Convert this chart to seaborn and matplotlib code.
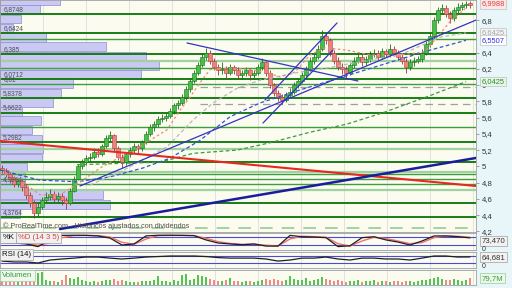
import numpy as np
import pandas as pd
import matplotlib
matplotlib.use("Agg")
import matplotlib.pyplot as plt
import matplotlib.transforms as mt
import seaborn as sns

# ---------------- data ----------------
opens = [4.98, 4.95, 4.90, 4.85, 4.78, 4.82, 4.75, 4.65, 4.55, 4.42,
         4.50, 4.58, 4.62, 4.66, 4.60, 4.64, 4.58, 4.55, 4.70, 4.85,
         5.00, 5.05, 5.10, 5.12, 5.18, 5.15, 5.25, 5.35, 5.38, 5.22,
         5.12, 5.05, 5.15, 5.20, 5.25, 5.22, 5.30, 5.40, 5.48, 5.52,
         5.58, 5.60, 5.62, 5.68, 5.75, 5.78, 5.85, 5.95, 6.05, 6.15,
         6.25, 6.35, 6.40, 6.30, 6.22, 6.18, 6.20, 6.15, 6.22, 6.18,
         6.12, 6.15, 6.18, 6.12, 6.15, 6.22, 6.28, 6.15, 6.00, 5.90,
         5.85, 5.82, 5.88, 5.92, 6.00, 6.05, 6.12, 6.20, 6.30, 6.35,
         6.45, 6.60, 6.55, 6.40, 6.30, 6.22, 6.20, 6.15, 6.25, 6.30,
         6.35, 6.28, 6.32, 6.38, 6.40, 6.35, 6.42, 6.38, 6.45, 6.40,
         6.35, 6.30, 6.22, 6.28, 6.30, 6.32, 6.40, 6.50, 6.60, 6.80,
         6.92, 6.95, 6.88, 6.82, 6.92, 6.96, 6.98, 7.00]
closes = [4.95, 4.90, 4.85, 4.78, 4.82, 4.75, 4.65, 4.55, 4.42, 4.50,
          4.58, 4.62, 4.66, 4.60, 4.64, 4.58, 4.55, 4.70, 4.85, 5.00,
          5.05, 5.10, 5.12, 5.18, 5.15, 5.25, 5.35, 5.38, 5.22, 5.12,
          5.05, 5.15, 5.20, 5.25, 5.22, 5.30, 5.40, 5.48, 5.52, 5.58,
          5.60, 5.62, 5.68, 5.75, 5.78, 5.85, 5.95, 6.05, 6.15, 6.25,
          6.35, 6.40, 6.30, 6.22, 6.18, 6.20, 6.15, 6.22, 6.18, 6.12,
          6.15, 6.18, 6.12, 6.15, 6.22, 6.28, 6.15, 6.00, 5.90, 5.85,
          5.82, 5.88, 5.92, 6.00, 6.05, 6.12, 6.20, 6.30, 6.35, 6.45,
          6.60, 6.55, 6.40, 6.30, 6.22, 6.20, 6.15, 6.25, 6.30, 6.35,
          6.28, 6.32, 6.38, 6.40, 6.35, 6.42, 6.38, 6.45, 6.40, 6.35,
          6.30, 6.22, 6.28, 6.30, 6.32, 6.40, 6.50, 6.60, 6.80, 6.92,
          6.95, 6.88, 6.82, 6.92, 6.96, 6.98, 7.00, 6.99]
highs = [5.02, 4.98, 4.93, 4.88, 4.86, 4.85, 4.78, 4.68, 4.58, 4.55,
         4.62, 4.68, 4.72, 4.70, 4.69, 4.67, 4.62, 4.73, 4.88, 5.03,
         5.09, 5.14, 5.17, 5.22, 5.22, 5.28, 5.39, 5.44, 5.40, 5.25,
         5.15, 5.18, 5.24, 5.29, 5.28, 5.33, 5.43, 5.52, 5.56, 5.62,
         5.65, 5.66, 5.72, 5.78, 5.82, 5.89, 5.99, 6.09, 6.19, 6.29,
         6.39, 6.46, 6.43, 6.33, 6.26, 6.28, 6.24, 6.26, 6.25, 6.22,
         6.19, 6.22, 6.21, 6.19, 6.26, 6.33, 6.30, 6.18, 6.03, 5.94,
         5.89, 5.92, 5.96, 6.04, 6.09, 6.16, 6.24, 6.34, 6.40, 6.49,
         6.68, 6.65, 6.58, 6.43, 6.34, 6.27, 6.24, 6.29, 6.34, 6.40,
         6.38, 6.36, 6.42, 6.45, 6.43, 6.46, 6.45, 6.50, 6.48, 6.43,
         6.38, 6.33, 6.32, 6.34, 6.36, 6.44, 6.54, 6.64, 6.84, 6.96,
         7.00, 6.98, 6.91, 6.96, 7.01, 7.02, 7.04, 7.03]
lows = [4.92, 4.87, 4.80, 4.74, 4.75, 4.70, 4.60, 4.50, 4.36, 4.38,
        4.47, 4.55, 4.58, 4.55, 4.56, 4.52, 4.48, 4.53, 4.68, 4.83,
        4.97, 5.02, 5.06, 5.09, 5.11, 5.13, 5.22, 5.31, 5.19, 5.08,
        4.98, 5.02, 5.12, 5.17, 5.17, 5.19, 5.27, 5.37, 5.44, 5.49,
        5.54, 5.56, 5.59, 5.65, 5.71, 5.75, 5.82, 5.92, 6.02, 6.12,
        6.22, 6.31, 6.26, 6.18, 6.13, 6.14, 6.08, 6.12, 6.14, 6.07,
        6.08, 6.11, 6.06, 6.08, 6.12, 6.19, 6.11, 5.96, 5.86, 5.80,
        5.77, 5.79, 5.85, 5.89, 5.97, 6.02, 6.09, 6.17, 6.26, 6.32,
        6.42, 6.50, 6.36, 6.26, 6.18, 6.14, 6.08, 6.12, 6.21, 6.27,
        6.24, 6.25, 6.29, 6.34, 6.31, 6.32, 6.34, 6.35, 6.36, 6.31,
        6.26, 6.15, 6.19, 6.24, 6.27, 6.29, 6.37, 6.47, 6.57, 6.77,
        6.88, 6.84, 6.76, 6.79, 6.89, 6.93, 6.95, 6.95]
volumes = [45, 40, 50, 35, 40, 45, 60, 55, 90, 140,
           150, 60, 50, 45, 40, 55, 120, 80, 70, 90,
           60, 45, 40, 50, 35, 45, 55, 60, 70, 50,
           60, 45, 40, 35, 40, 45, 50, 45, 60, 100,
           50, 45, 40, 55, 50, 120, 130, 60, 70, 120,
           110, 90, 70, 60, 50, 45, 60, 80, 50, 45,
           40, 45, 50, 40, 45, 55, 70, 60, 65, 55,
           50, 60, 100, 70, 55, 60, 80, 50, 60, 70,
           90, 70, 60, 50, 55, 45, 40, 50, 45, 60,
           40, 45, 50, 55, 40, 45, 50, 40, 45, 50,
           40, 45, 50, 40, 45, 55, 60, 70, 80, 90,
           70, 60, 55, 65, 60, 50, 55, 80]

# moving averages read at sparse points (candle index, price)
ma_fast_x = [-0.5, 4.5, 9.5, 14.5, 20.25, 24.5, 28.25, 32, 37, 41.25, 44.5, 47, 49.5, 52, 57, 62,
             65.75, 69.5, 73.25, 77, 80.75, 86.25, 92, 99.5, 105.75, 112, 116]
ma_fast_y = [4.93, 4.83, 4.65, 4.65, 4.83, 4.98, 5.08, 5.16, 5.32, 5.45, 5.69, 5.85, 6.03, 6.19, 6.21, 6.19,
             6.16, 6.10, 6.16, 6.37, 6.46, 6.43, 6.37, 6.37, 6.41, 6.78, 6.95]
ma_mid_x = [22, 29.5, 35.25, 41.25, 47.75, 52.75, 58.75, 64.5, 74.5, 81.25, 92, 99.5, 109.5, 116]
ma_mid_y = [4.77, 4.93, 5.08, 5.24, 5.57, 5.78, 5.96, 6.06, 6.16, 6.21, 6.31, 6.37, 6.59, 6.6425]
ma_slow_x = [-0.5, 9.5, 18.75, 27, 35.25, 42, 49.5, 57, 64.5, 74.5, 84.5, 97, 107, 116]
ma_slow_y = [4.955, 4.83, 4.81, 4.87, 4.98, 5.10, 5.32, 5.61, 5.78, 5.94, 6.09, 6.28, 6.43, 6.5507]
ma_long_x = [18.75, 32, 39.5, 47.75, 58.75, 67, 77, 86.25, 95.25, 107, 116]
ma_long_y = [5.02, 5.04, 5.05, 5.16, 5.20, 5.29, 5.42, 5.52, 5.66, 5.87, 6.0425]

# trend lines (start index, start price), (end index, end price)
trend_red = [(-0.5, 5.312), (118.5, 4.758)]
trend_navy = [(14.5, 4.229), (118.5, 5.103)]
trend_blue = [[(19.5, 4.758), (118.5, 6.80)],
              [(46.25, 6.518), (89, 6.05)],
              [(65.75, 5.817), (83.75, 6.764)],
              [(65.25, 5.533), (82.75, 6.432)]]

# horizontal levels
levels_dark = [6.8748, 6.6424, 6.385, 6.0712, 5.8378, 5.6622, 5.2982, 5.05, 4.55, 4.3764]
levels_mid = [6.567, 6.21, 6.01, 5.49, 4.90, 4.84, 4.78]
levels_light = [6.297, 5.21, 4.93, 4.71]
levels_grey_dash = [5.98, 5.77]
levels_green_dash = [4.24]

# volume profile
profile_price = [7.037, 6.926, 6.812, 6.698, 6.584, 6.470, 6.357, 6.243, 6.129, 6.015, 5.901, 5.787,
                 5.674, 5.560, 5.446, 5.332, 5.218, 5.104, 4.990, 4.877, 4.763, 4.649, 4.535, 4.421]
profile_vol = [60, 40, 21, 13, 46, 106, 146, 159, 141, 73, 61, 53,
               22, 41, 32, 42, 43, 42, 27, 25, 25, 103, 110, 20]
profile_labels = [6.8748, 6.6424, 6.385, 6.0712, 6.01, 5.8378, 5.6622, 5.2982, 4.7864, 4.3764]

# oscillators, read every third candle
osc_idx = list(range(0, 118, 3))
stoch_k = [35, 35, 28, 8, 58, 92, 93, 92, 88, 72, 20, 28, 88, 93, 93, 92, 90, 58, 35, 28,
           22, 28, 12, 12, 92, 82, 80, 75, 8, 14, 75, 82, 58, 42, 20, 50, 88, 88, 82, 73.47]
stoch_d = [38, 36, 32, 18, 35, 75, 90, 92, 90, 80, 40, 25, 65, 90, 92, 92, 91, 70, 45, 32,
           25, 26, 18, 12, 65, 86, 82, 78, 30, 12, 50, 78, 68, 50, 30, 38, 75, 88, 85, 78]
rsi = [41, 36, 36, 30, 47, 53, 58, 64, 64, 58, 53, 58, 64, 67, 70, 70, 70, 67, 61, 58,
       58, 58, 53, 41, 47, 58, 58, 64, 53, 47, 58, 58, 53, 53, 47, 58, 70, 70, 64, 64.681]

yticks = [4.2, 4.4, 4.6, 4.8, 5.0, 5.2, 5.4, 5.6, 5.8, 6.0, 6.2, 6.4, 6.8]

# ---------------- drawing ----------------
sns.set_theme(style="white")
plt.rcParams["font.family"] = ["Liberation Sans", "DejaVu Sans"]

BG = "#fbfbef"
fig = plt.figure(figsize=(5.12, 2.88), dpi=100)
fig.patch.set_facecolor("#e8f6fa")
W = 476 / 512
N = len(closes)
grid_x = (np.arange(1, 12) * 43 - 2) / 4


def comma(v, nd=None):
    s = f"{v:g}" if nd is None else f"{v:.{nd}f}"
    return s.replace(".", ",")


def add_panel(top, bottom):
    a = fig.add_axes([0, 1 - bottom / 288, W, (bottom - top) / 288])
    a.set_facecolor(BG)
    for s in a.spines.values():
        s.set_color("#a0a0a0")
        s.set_linewidth(0.6)
    a.set_xlim(-0.5, 118.5)
    a.set_xticks([])
    for gx in grid_x:
        a.axvline(gx, color="#dcdcdc", lw=0.6, zorder=0)
    return a


ax = add_panel(0, 232)
ax.set_ylim(4.192, 7.047)

# volume profile
ax.barh(profile_price, np.array(profile_vol) / 4.0, left=-0.5, height=0.108,
        color="#c9c9f2", edgecolor="#8c8cd6", linewidth=0.5, zorder=1)

# levels
for lv in levels_light:
    ax.axhline(lv, color="#9fd29f", lw=1.6, zorder=2)
for lv in levels_mid:
    ax.axhline(lv, color="#3c9e3c", lw=1.0, zorder=2)
for lv in levels_dark:
    ax.axhline(lv, color="#167d16", lw=1.4, zorder=2)
for lv in levels_grey_dash:
    ax.axhline(lv, xmin=0.42, color="#a0a0a0", lw=0.9, ls=(0, (6, 4)), zorder=2)
for lv in levels_green_dash:
    ax.axhline(lv, color="#9ccf9c", lw=1.3, ls=(0, (7, 5)), zorder=2)

for lv in profile_labels:
    ax.text(0.3, lv + 0.014, comma(lv), fontsize=4.7, color="#505050", va="bottom", ha="left", zorder=6)

# candles
df = pd.DataFrame(dict(o=opens, h=highs, l=lows, c=closes, v=volumes))
df["i"] = np.arange(N)
up = (df.c >= df.o).values
ax.vlines(df.i, df.l, df.h, color=np.where(up, "#1f6a1f", "#8a3a3a"), lw=0.6, zorder=3)
body = (df.c - df.o).abs().clip(lower=0.02)
ax.bar(df.i, body, bottom=np.minimum(df.o, df.c), width=0.82,
       color=np.where(up, "#45bf45", "#ee8080"),
       edgecolor=np.where(up, "#1f6f1f", "#b04040"), linewidth=0.4, zorder=4)

# moving averages
sns.lineplot(x=ma_long_x, y=ma_long_y, ax=ax, color="#3f9a3f", lw=0.9, ls=(0, (3, 2)), zorder=5)
sns.lineplot(x=ma_slow_x, y=ma_slow_y, ax=ax, color="#3352d6", lw=0.9, ls=(0, (3, 2)), zorder=5)
sns.lineplot(x=ma_mid_x, y=ma_mid_y, ax=ax, color="#b8b8b8", lw=0.9, ls=(0, (3, 2)), zorder=5)
sns.lineplot(x=ma_fast_x, y=ma_fast_y, ax=ax, color="#f08a78", lw=0.9, ls=(0, (2, 2)), zorder=5)

# trend lines
ax.plot(*zip(*trend_red), color="#e8281e", lw=1.5, zorder=6)
ax.plot(*zip(*trend_navy), color="#1c1c9c", lw=1.8, zorder=6)
for tl in trend_blue:
    ax.plot(*zip(*tl), color="#3434c4", lw=0.9, zorder=6)

ax.text(0.3, 4.262, "\u00a9 ProRealTime.com - Hist\u00f3ricos ajustados con dividendos",
        fontsize=5.2, color="#505050", va="center", ha="left", zorder=7)

# right axis
ax.yaxis.tick_right()
ax.set_yticks(yticks)
ax.set_yticklabels([comma(round(t, 1)) for t in yticks])
ax.tick_params(axis="y", length=2.5, width=0.5, color="#808080", labelsize=5.6,
               labelcolor="#333333", pad=1.5, right=True)

trans = mt.blended_transform_factory(ax.transAxes, ax.transData)
for val, tc, fc in [(6.9988, "#e03c3c", "#fde8e8"), (6.6425, "#a8a8a8", "#f2f2f2"),
                    (6.5507, "#2f2fe0", "#ffffff"), (6.0425, "#2a8a2a", "#e6f6e6")]:
    ax.text(1.012, val, comma(val, 4), transform=trans, fontsize=5.4, color=tc, va="center", ha="left",
            bbox=dict(boxstyle="square,pad=0.18", fc=fc, ec="#c0c0c0", lw=0.5), clip_on=False, zorder=10)

# stochastic panel
ax2 = add_panel(233, 250)
ax2.set_ylim(-17.5, 110)
ax2.set_yticks([])
for lv in (20, 80):
    ax2.axhline(lv, color="#4a4ad8", lw=0.8, zorder=1)
sns.lineplot(x=osc_idx, y=stoch_d, ax=ax2, color="#f07070", lw=1.0, zorder=2)
sns.lineplot(x=osc_idx, y=stoch_k, ax=ax2, color="#202020", lw=0.9, zorder=3)
ax2.text(0.005, 0.72, "%K", transform=ax2.transAxes, fontsize=5.6, color="#111111", va="center",
         bbox=dict(boxstyle="square,pad=0.25", fc="#f0f0f0", ec="#a0a0a0", lw=0.5), zorder=8)
ax2.text(0.037, 0.72, "%D (14 3 5)", transform=ax2.transAxes, fontsize=5.6, color="#e04040", va="center",
         bbox=dict(boxstyle="square,pad=0.25", fc="#f0f0f0", ec="#a0a0a0", lw=0.5), zorder=8)
ax2.text(1.012, 0.55, "73,470", transform=ax2.transAxes, fontsize=5.6, color="#333333", va="center",
         bbox=dict(boxstyle="square,pad=0.2", fc="#f2f2f2", ec="#a0a0a0", lw=0.5), clip_on=False)
ax2.text(1.012, 0.05, "0", transform=ax2.transAxes, fontsize=5.0, color="#333333", va="center", clip_on=False)

# RSI panel
ax3 = add_panel(252, 268)
ax3.set_ylim(1.5, 92.9)
ax3.set_yticks([])
for lv in (30, 70):
    ax3.axhline(lv, color="#4a4ad8", lw=0.8, zorder=1)
sns.lineplot(x=osc_idx, y=rsi, ax=ax3, color="#202020", lw=0.9, zorder=3)
ax3.text(0.005, 0.82, "RSI (14)", transform=ax3.transAxes, fontsize=5.6, color="#111111", va="center",
         bbox=dict(boxstyle="square,pad=0.25", fc="#f0f0f0", ec="#a0a0a0", lw=0.5), zorder=8)
ax3.text(1.012, 0.68, "64,681", transform=ax3.transAxes, fontsize=5.6, color="#333333", va="center",
         bbox=dict(boxstyle="square,pad=0.2", fc="#f2f2f2", ec="#a0a0a0", lw=0.5), clip_on=False)
ax3.text(1.012, 0.1, "0", transform=ax3.transAxes, fontsize=5.0, color="#333333", va="center", clip_on=False)

# volume panel
ax4 = add_panel(270, 285)
ax4.set_ylim(0, 175)
ax4.set_yticks([])
ax4.bar(df.i, df.v, width=0.55, color=np.where(up, "#55c455", "#f08a8a"), lw=0, zorder=2)
ax4.text(0.005, 0.62, "Volumen", transform=ax4.transAxes, fontsize=5.6, color="#3a9a3a", va="center",
         bbox=dict(boxstyle="square,pad=0.25", fc="#eef8ee", ec="#a0c8a0", lw=0.5), zorder=8)
ax4.text(1.012, 0.45, "79,7M", transform=ax4.transAxes, fontsize=5.6, color="#3a9a3a", va="center",
         bbox=dict(boxstyle="square,pad=0.2", fc="#eaf8ea", ec="#a0c8a0", lw=0.5), clip_on=False)

fig.savefig("out.png", dpi=100, facecolor=fig.get_facecolor())
